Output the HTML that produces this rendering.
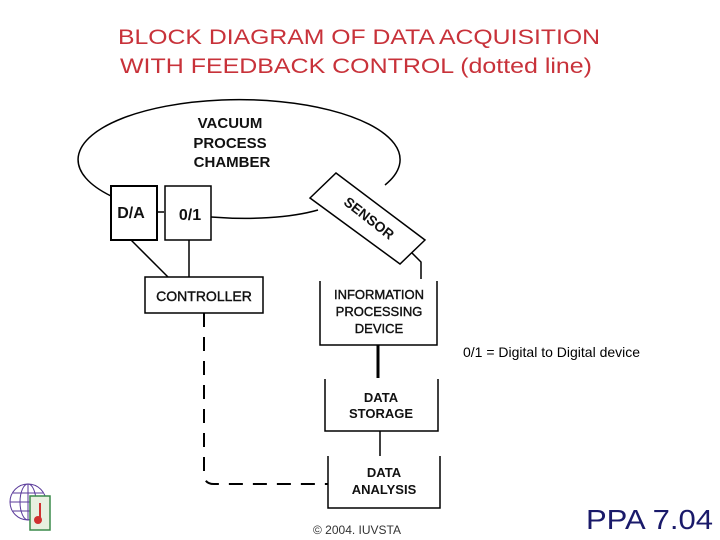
<!DOCTYPE html>
<html><head><meta charset="utf-8"><style>
html,body{margin:0;padding:0;background:#fff;}
svg{display:block;font-family:"Liberation Sans",Arial,sans-serif;}
</style></head><body>
<svg width="720" height="540" viewBox="0 0 720 540" xmlns="http://www.w3.org/2000/svg">
<g fill="#c8323a" font-size="21">
<text x="118" y="44" textLength="482" lengthAdjust="spacingAndGlyphs">BLOCK DIAGRAM OF DATA ACQUISITION</text>
<text x="120" y="73" textLength="472" lengthAdjust="spacingAndGlyphs">WITH FEEDBACK CONTROL (dotted line)</text>
</g>
<g fill="none" stroke="#000" stroke-width="1.5">
<path d="M111,196 A161,60 0 1 1 385,185"/>
<path d="M211,217 C250,220 290,218 318,210"/>
<line x1="157" y1="212" x2="164" y2="212"/>
<rect x="111" y="186" width="46" height="54" stroke-width="2"/>
<rect x="165" y="186" width="46" height="54"/>
<polygon points="310,198 336,173 425,240 400,264" fill="#fff"/>
<line x1="131" y1="240" x2="168" y2="277"/>
<line x1="189" y1="240" x2="189" y2="277"/>
<rect x="145" y="277" width="118" height="36"/>
<path d="M412,253 L421,262 L421,279"/>
<path d="M320,281 L320,345 L437,345 L437,281"/>
<line x1="378" y1="345" x2="378" y2="378" stroke-width="3"/>
<path d="M325,379 L325,431 L438,431 L438,379"/>
<line x1="380" y1="431" x2="380" y2="456"/>
<path d="M328,456 L328,508 L440,508 L440,456"/>
<path d="M204,313 L204,474 Q204,484 214,484 L328,484" stroke-dasharray="14,10" stroke-width="2"/>
</g>
<g font-size="15" text-anchor="middle" fill="#111" font-weight="bold">
<text x="230" y="128">VACUUM</text>
<text x="230" y="148">PROCESS</text>
<text x="232" y="167">CHAMBER</text>
<text x="131" y="218" font-size="16">D/A</text>
<text x="190" y="220" font-size="16">0/1</text>
<text x="366" y="222" font-size="14" transform="rotate(38 366 222)">SENSOR</text>
<text x="204" y="301" font-size="14" font-weight="normal" stroke="#111" stroke-width="0.4">CONTROLLER</text>
<text x="379" y="299" font-size="13" font-weight="normal" stroke="#111" stroke-width="0.4">INFORMATION</text>
<text x="379" y="316" font-size="13" font-weight="normal" stroke="#111" stroke-width="0.4">PROCESSING</text>
<text x="379" y="333" font-size="13" font-weight="normal" stroke="#111" stroke-width="0.4">DEVICE</text>
<text x="381" y="402" font-size="13">DATA</text>
<text x="381" y="418" font-size="13">STORAGE</text>
<text x="384" y="477" font-size="13">DATA</text>
<text x="384" y="494" font-size="13">ANALYSIS</text>
</g>
<text x="463" y="357" font-size="14" fill="#000">0/1 = Digital to Digital device</text>
<text x="313" y="534" font-size="12" fill="#333">© 2004. IUVSTA</text>
<text x="586" y="529" font-size="28" fill="#1a1a6a" textLength="127" lengthAdjust="spacingAndGlyphs">PPA 7.04</text>
<g stroke="#5a3a9a" fill="none" stroke-width="1">
<circle cx="28" cy="502" r="18"/>
<ellipse cx="28" cy="502" rx="8" ry="18"/>
<line x1="10" y1="502" x2="46" y2="502"/>
<line x1="13" y1="493" x2="43" y2="493"/>
<line x1="13" y1="511" x2="43" y2="511"/>
<line x1="28" y1="484" x2="28" y2="520"/>
</g>
<rect x="30" y="496" width="20" height="34" fill="#e8f0e0" stroke="#3a8a4a" stroke-width="1.5"/>
<circle cx="38" cy="520" r="4" fill="#d03030"/>
<line x1="40" y1="503" x2="40" y2="518" stroke="#d03030" stroke-width="2"/>
</svg>
</body></html>
